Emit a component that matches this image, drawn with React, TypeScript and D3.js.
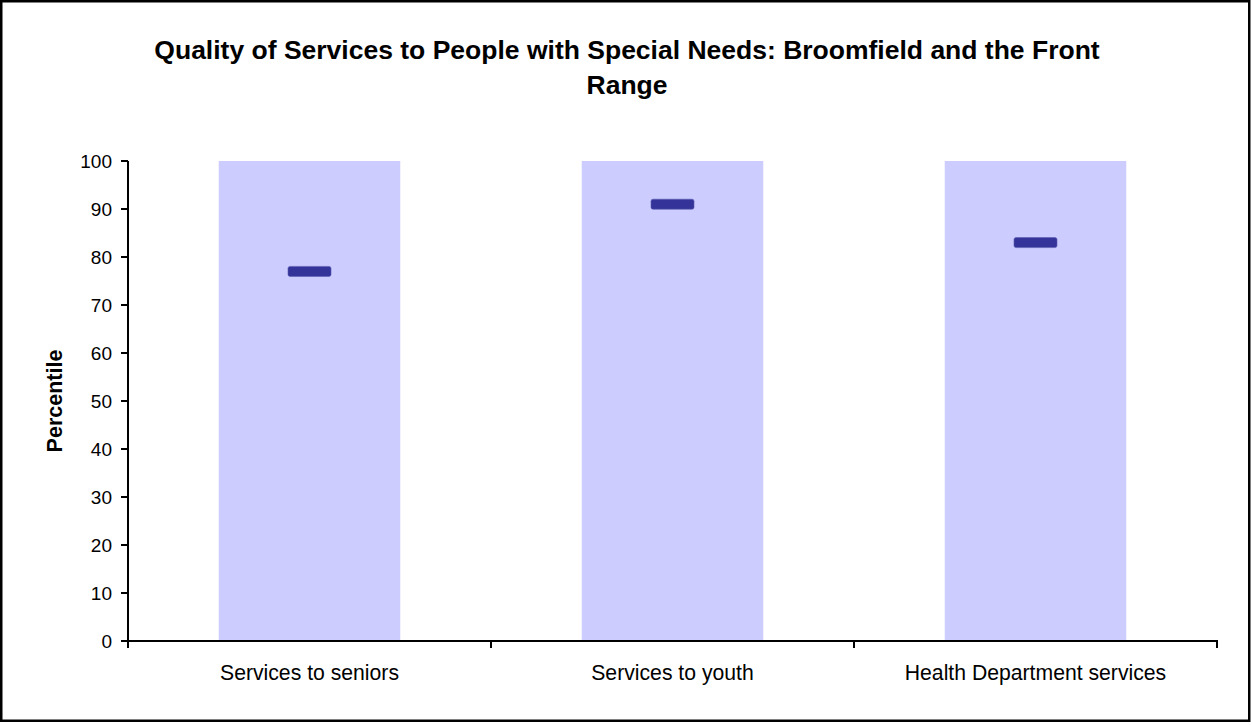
import React from "react";
import * as d3 from "d3";

const categories = ["Services to seniors", "Services to youth", "Health Department services"];
const rangeMax = [100, 100, 100];
const percentiles = [77, 91, 83];
const yTicks = [0, 10, 20, 30, 40, 50, 60, 70, 80, 90, 100];
const titleLines = ["Quality of Services to People with Special Needs: Broomfield and the Front", "Range"];
const yTitle = "Percentile";

export default function App() {
  const W = 1252, H = 725;
  const left = 128, right = 1217, top = 161, bottom = 641;
  const x = d3.scaleBand<string>().domain(categories).range([left, right]).paddingInner(0.5).paddingOuter(0.25);
  const xb = d3.scaleBand<string>().domain(categories).range([left, right]);
  const y = d3.scaleLinear().domain([0, 100]).range([bottom, top]);
  const font = "Arial, 'Liberation Sans', sans-serif";
  const mw = 43, mh = 10;
  return (
    <svg width={W} height={H} style={{ position: "absolute", left: 0, top: 0, background: "#fff" }} fontFamily={font}>
      <rect x={1.25} y={1.25} width={1248} height={719.5} fill="#fff" stroke="#000" strokeWidth={2.5} />
      {titleLines.map((t, i) => (
        <text key={i} x={627} y={59 + i * 35} textAnchor="middle" fontSize={26.5} fontWeight="bold" fill="#000">{t}</text>
      ))}
      {categories.map((c, i) => (
        <rect key={c} x={x(c)!} y={y(rangeMax[i])} width={x.bandwidth()} height={y(0) - y(rangeMax[i])} fill="#CCCCFF" />
      ))}
      {categories.map((c, i) => (
        <rect key={c + "m"} x={x(c)! + x.bandwidth() / 2 - mw / 2} y={y(percentiles[i]) - mh / 2} width={mw} height={mh} rx={2} fill="#333399" stroke="#5a5ab0" strokeWidth={0.6} />
      ))}
      <line x1={left} x2={left} y1={top} y2={bottom} stroke="#000" strokeWidth={2} />
      <line x1={left - 1} x2={right + 1} y1={bottom} y2={bottom} stroke="#000" strokeWidth={2} />
      {yTicks.map(t => (
        <g key={t}>
          <line x1={left - 7} x2={left} y1={y(t)} y2={y(t)} stroke="#000" strokeWidth={2} />
          <text x={112} y={y(t)} dy="0.35em" textAnchor="end" fontSize={19} fill="#000">{t}</text>
        </g>
      ))}
      {[...categories.map(c => xb(c)!), right].map((v, i) => (
        <line key={i} x1={v} x2={v} y1={bottom} y2={bottom + 7} stroke="#000" strokeWidth={2} />
      ))}
      {categories.map(c => (
        <text key={c + "l"} x={x(c)! + x.bandwidth() / 2} y={680} textAnchor="middle" fontSize={21.2} fill="#000">{c}</text>
      ))}
      <text transform={`translate(62,${(top + bottom) / 2}) rotate(-90)`} textAnchor="middle" fontSize={21.5} fontWeight="bold" fill="#000">{yTitle}</text>
    </svg>
  );
}
